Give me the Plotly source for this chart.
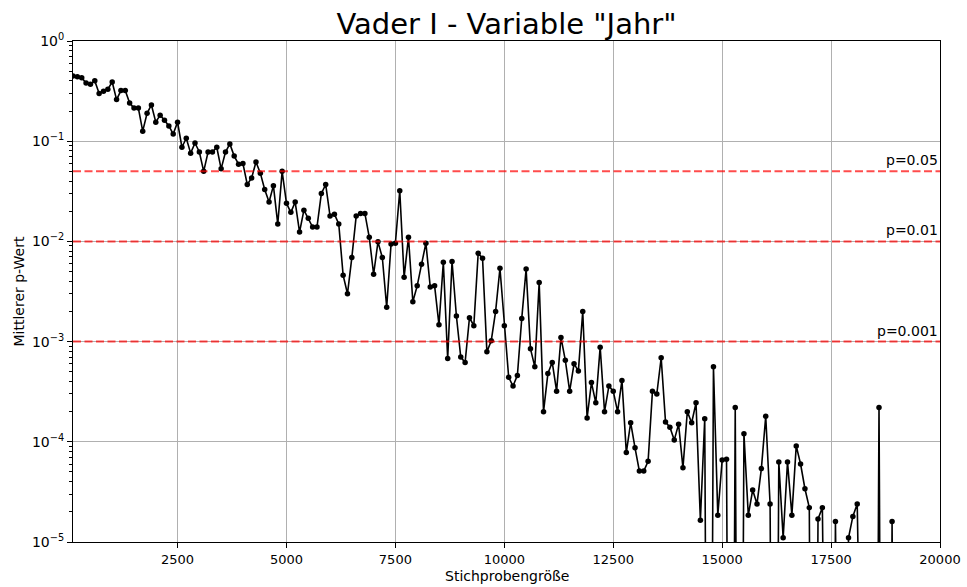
import math
import plotly.graph_objects as go

# Sample sizes (Stichprobengröße) and the mean p-value at each size.
# Entries of 0.0 lie below the plotted range (p-value underflow).
sample_sizes = list(range(100, 20001, 100))
mean_p = [
    0.447, 0.44, 0.43, 0.38, 0.37, 0.40, 0.30, 0.316, 0.33, 0.39,
    0.26, 0.32, 0.32, 0.24, 0.214, 0.214, 0.126, 0.19, 0.23, 0.155,
    0.182, 0.162, 0.142, 0.118, 0.155, 0.087, 0.107, 0.076, 0.096, 0.078,
    0.050, 0.078, 0.078, 0.087, 0.053, 0.078, 0.094, 0.071, 0.059, 0.060,
    0.037, 0.043, 0.062, 0.048, 0.033, 0.0247, 0.036, 0.0149, 0.050, 0.024,
    0.0195, 0.0247, 0.0124, 0.0205, 0.017, 0.0139, 0.0139, 0.030, 0.037, 0.0179,
    0.0187, 0.0149, 0.0046, 0.0030, 0.0069, 0.0179, 0.019, 0.019, 0.011, 0.0047,
    0.0099, 0.0069, 0.0022, 0.0094, 0.0096, 0.032, 0.0044, 0.011, 0.0025, 0.0036,
    0.0059, 0.0096, 0.0035, 0.0036, 0.00147, 0.0062, 0.00068, 0.0063, 0.0018, 0.00070,
    0.00062, 0.00173, 0.00144, 0.0076, 0.0068, 0.00079, 0.00102, 0.0020, 0.0054, 0.00144,
    0.00044, 0.00036, 0.00046, 0.0017, 0.0053, 0.00085, 0.00056, 0.0039, 0.00020, 0.00048,
    0.00062, 0.00032, 0.0011, 0.00065, 0.00032, 0.00060, 0.00051, 0.0020, 0.000173, 0.00039,
    0.000245, 0.00088, 0.00020, 0.00036, 0.00032, 0.00020, 0.00041, 0.000078, 0.000155, 0.000087,
    0.000051, 0.000051, 0.000064, 0.00032, 0.00030, 0.00069, 0.000158, 0.00014, 0.000104, 0.00015,
    0.000055, 0.00020, 0.000155, 0.000245, 0.0000165, 0.00017, 0.0, 0.00056, 0.0000185, 0.000066,
    0.000067, 0.0, 0.00022, 0.0, 0.00012, 0.0000185, 0.000033, 0.000024, 0.000054, 0.00018,
    0.000024, 0.0, 0.000063, 0.000011, 0.000063, 0.0000185, 0.000091, 0.000060, 0.000034, 0.000022,
    0.0, 0.000017, 0.000022, 0.0, 0.0, 0.000016, 0.0, 0.0, 0.000011, 0.000018,
    0.000024, 0.0, 0.0, 0.0, 0.0, 0.00022, 0.0, 0.0, 0.000016, 0.0,
    0.0, 0.0, 0.0, 0.0, 0.0, 0.0, 0.0, 0.0, 0.0, 0.0,
]
thresholds = [0.05, 0.01, 0.001]
threshold_labels = ["p=0.05", "p=0.01", "p=0.001"]
x_ticks = [2500, 5000, 7500, 10000, 12500, 15000, 17500, 20000]
x_ticktext = ["2500", "5000", "7500", "10000", "12500", "15000", "17500", "20000"]
y_ticks = [1e-5, 1e-4, 1e-3, 1e-2, 1e-1, 1]
y_ticktext = ["10<sup>−5</sup>", "10<sup>−4</sup>", "10<sup>−3</sup>",
              "10<sup>−2</sup>", "10<sup>−1</sup>", "10<sup>0</sup>"]

FONT = "DejaVu Sans"
# zeros cannot sit on a log axis: clip them far below the visible range
p_plot = [v if v > 0 else 1e-12 for v in mean_p]

fig = go.Figure()

fig.add_trace(go.Scatter(
    x=sample_sizes, y=p_plot, mode="lines+markers",
    line=dict(color="black", width=1.6),
    marker=dict(color="black", size=5.5),
    showlegend=False,
))

for t in thresholds:
    fig.add_trace(go.Scatter(
        x=[sample_sizes[0], sample_sizes[-1]], y=[t, t], mode="lines",
        line=dict(color="rgba(255,0,0,0.7)", width=2, dash="8px,3.5px"),
        showlegend=False, hoverinfo="skip",
    ))

annotations = []
for t, lab in zip(thresholds, threshold_labels):
    annotations.append(dict(
        x=sample_sizes[-1], y=math.log10(t), xref="x", yref="y",
        text=lab, showarrow=False, xanchor="right", yanchor="bottom",
        yshift=1, font=dict(family=FONT, size=14, color="black"),
    ))

annotations.append(dict(
    x=0.5, y=0, xref="paper", yref="paper", text="Stichprobengröße",
    showarrow=False, xanchor="center", yanchor="middle", yshift=-34,
    font=dict(family=FONT, size=14, color="black"),
))
annotations.append(dict(
    x=0, y=0.5, xref="paper", yref="paper", text="Mittlerer p-Wert",
    showarrow=False, xanchor="center", yanchor="middle", xshift=-55,
    textangle=-90, font=dict(family=FONT, size=14, color="black"),
))

minor_vals = [m * 10 ** e for e in range(-5, 0) for m in range(2, 10)]

fig.update_layout(
    width=967, height=587,
    margin=dict(l=73, r=27, t=41, b=45),
    paper_bgcolor="white", plot_bgcolor="white",
    title=dict(text='Vader I - Variable "Jahr"', x=0.5, xref="paper",
               xanchor="center", y=1 - 24 / 587, yref="container",
               yanchor="middle", font=dict(family=FONT, size=29, color="black")),
    annotations=annotations,
    xaxis=dict(
        range=[sample_sizes[0], sample_sizes[-1]], automargin=False,
        tickmode="array", tickvals=x_ticks, ticktext=x_ticktext,
        showgrid=True, gridcolor="#b0b0b0", gridwidth=1,
        showline=True, linecolor="black", linewidth=1, mirror=True,
        ticks="outside", ticklen=5, tickwidth=1, tickcolor="black",
        tickfont=dict(family=FONT, size=13, color="black"),
        zeroline=False,
    ),
    yaxis=dict(
        type="log", range=[-5, 0], automargin=False,
        tickmode="array", tickvals=y_ticks, ticktext=y_ticktext,
        showgrid=True, gridcolor="#b0b0b0", gridwidth=1,
        showline=True, linecolor="black", linewidth=1, mirror=True,
        ticks="outside", ticklen=5, tickwidth=1, tickcolor="black",
        tickfont=dict(family=FONT, size=14, color="black"),
        minor=dict(tickvals=minor_vals, ticks="outside", ticklen=3,
                   tickwidth=0.8, tickcolor="black", showgrid=False),
        zeroline=False,
    ),
)

fig.write_html("out.html")
